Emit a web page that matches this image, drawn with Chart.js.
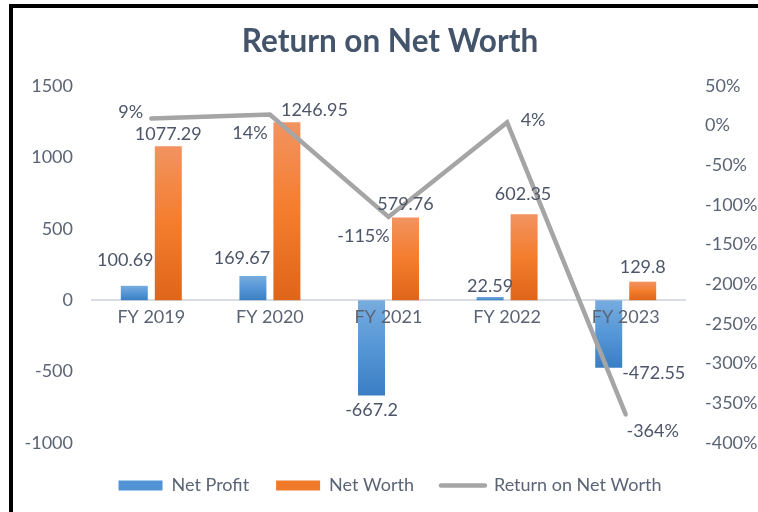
<!DOCTYPE html>
<html><head><meta charset="utf-8">
<script src="https://cdn.jsdelivr.net/npm/chart.js@4.4.1/dist/chart.umd.min.js"></script>
<style>
html,body{margin:0;padding:0;background:#fff;overflow:hidden;}
#wrap{position:relative;width:758px;height:512px;background:#fff;}
#frame{position:absolute;left:9px;top:4px;width:800px;height:600px;border-left:4px solid #000;border-top:4px solid #000;pointer-events:none;}
</style></head><body>
<div id="wrap"><canvas id="c" width="758" height="512"></canvas><div id="frame"></div></div>
<script>
const categories = ['FY 2019', 'FY 2020', 'FY 2021', 'FY 2022', 'FY 2023'];
const netProfit = [100.69, 169.67, -667.2, 22.59, -472.55];
const netWorth = [1077.29, 1246.95, 579.76, 602.35, 129.8];
const returnOnNetWorth = [0.09, 0.14, -1.15, 0.04, -3.64];
const leftAxis = { min: -1000, max: 1500, step: 500 };
const rightAxis = { min: -4, max: 0.5, step: 0.5 };

const pct = v => Math.round(v * 100) + '%';
const TEXT = '#5B6475';
const LABEL = '#4D5669';

function barGradient(stops) {
  return function (ctx) {
    const chart = ctx.chart;
    if (!chart.chartArea || ctx.type !== 'data' || !chart.scales.y) return stops[1];
    const ys = chart.scales.y;
    const p0 = ys.getPixelForValue(0), p1 = ys.getPixelForValue(ctx.raw);
    const top = Math.min(p0, p1), bot = Math.max(p0, p1);
    if (!isFinite(top) || bot - top < 1) return stops[1];
    const g = chart.ctx.createLinearGradient(0, top, 0, bot);
    g.addColorStop(0, stops[0]); g.addColorStop(0.5, stops[1]); g.addColorStop(1, stops[2]);
    return g;
  };
}

const dataLabels = {
  id: 'dataLabels',
  afterDatasetsDraw(chart, args, opts) {
    const ctx = chart.ctx;
    ctx.save();
    ctx.font = '18px Lato';
    ctx.fillStyle = LABEL;
    ctx.textAlign = 'center';
    ctx.textBaseline = 'middle';
    chart.data.datasets.forEach((ds, di) => {
      const meta = chart.getDatasetMeta(di);
      meta.data.forEach((el, i) => {
        const off = opts.offsets[di][i];
        const v = ds.data[i];
        const txt = ds.type === 'line' ? pct(v) : String(v);
        ctx.fillText(txt, el.x + off[0], el.y + off[1]);
      });
    });
    ctx.restore();
  }
};

Chart.defaults.font.family = 'Lato';

new Chart(document.getElementById('c'), {
  type: 'bar',
  data: {
    labels: categories,
    datasets: [
      { label: 'Net Profit', data: netProfit, yAxisID: 'y', order: 1,
        backgroundColor: barGradient(['#78ACDF', '#5596D6', '#3A7FC3']),
        categoryPercentage: 0.573, barPercentage: 0.794 },
      { label: 'Net Worth', data: netWorth, yAxisID: 'y', order: 1,
        backgroundColor: barGradient(['#F29360', '#F47D2D', '#DE651A']),
        categoryPercentage: 0.573, barPercentage: 0.794 },
      { type: 'line', label: 'Return on Net Worth', data: returnOnNetWorth, yAxisID: 'y1', order: 0,
        borderColor: '#A5A5A5', backgroundColor: '#A5A5A5', borderWidth: 4.5, pointRadius: 0,
        tension: 0, borderCapStyle: 'round' }
    ]
  },
  options: {
    responsive: false,
    animation: false,
    devicePixelRatio: 1,
    layout: { padding: { left: 22, right: 0, top: 0, bottom: 7.5 } },
    plugins: {
      title: { display: true, text: 'Return on Net Worth', color: '#44546A',
        font: { family: 'Lato', size: 31.5, weight: 'bold', lineHeight: 1.2 },
        padding: { top: 23, bottom: 25.2 } },
      legend: {
        position: 'bottom',
        title: { display: true, text: '', font: { size: 5, lineHeight: 1 }, padding: { top: 0, bottom: 1.5 } },
        labels: {
          usePointStyle: true, pointStyleWidth: 44, boxHeight: 10, padding: 27,
          color: TEXT, font: { size: 18 },
          generateLabels(chart) {
            const cols = ['#5193D5', '#EF7A2A', '#A5A5A5'];
            return chart.data.datasets.map((ds, i) => ({
              text: ds.label, datasetIndex: i, hidden: false, fontColor: TEXT,
              fillStyle: cols[i], strokeStyle: cols[i],
              lineWidth: ds.type === 'line' ? 4.5 : 0,
              lineCap: 'round',
              pointStyle: ds.type === 'line' ? 'line' : 'rect'
            }));
          }
        }
      },
      tooltip: { enabled: false },
      dataLabels: {
        offsets: [
          [[-9, -25.7], [-11, -18], [0, 14.3], [0, -11], [45, 5.4]],
          [[0, -12], [27.5, -12], [0, -13.7], [-1, -19.5], [0, -14]],
          [[-20.5, -6], [-20, 18.6], [-25, 19], [26, -2], [27, 16.4]]
        ]
      }
    },
    scales: {
      x: {
        position: { y: 0 }, offset: true,
        grid: { display: false, drawTicks: false },
        border: { display: true, color: '#D9DDE3', width: 2 },
        ticks: { z: 1, color: TEXT, font: { size: 18 }, padding: 6, maxRotation: 0, autoSkip: false }
      },
      y: {
        position: 'left', min: leftAxis.min, max: leftAxis.max,
        grid: { display: false, drawTicks: false }, border: { display: false },
        ticks: { stepSize: leftAxis.step, padding: 19, color: TEXT, font: { size: 18 }, callback: v => String(v) },
        afterFit(s) { s.width = 70; }
      },
      y1: {
        position: 'right', min: rightAxis.min, max: rightAxis.max,
        grid: { display: false, drawTicks: false }, border: { display: false },
        ticks: { stepSize: rightAxis.step, padding: 20, color: TEXT, font: { size: 18 }, callback: v => pct(v) },
        afterFit(s) { s.width = 73; }
      }
    }
  },
  plugins: [dataLabels]
});
</script>
</body></html>
